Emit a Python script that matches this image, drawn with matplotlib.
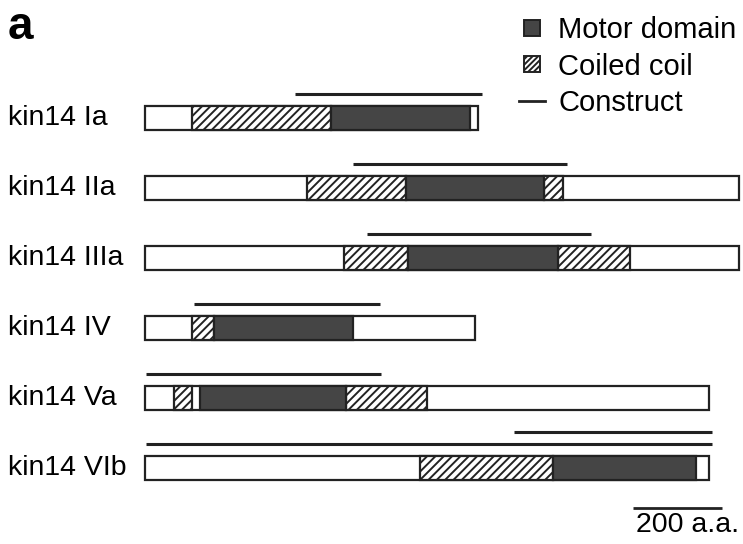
import matplotlib
matplotlib.use("Agg")
import matplotlib.pyplot as plt
from matplotlib.patches import Patch, Rectangle
from matplotlib.lines import Line2D
from matplotlib.legend_handler import HandlerPatch

plt.rcParams["font.family"] = ["Liberation Sans", "DejaVu Sans"]
plt.rcParams["hatch.linewidth"] = 1.4

# kinesin-14 members, lengths in amino acids
names = ["kin14 Ia", "kin14 IIa", "kin14 IIIa", "kin14 IV", "kin14 Va", "kin14 VIb"]
lengths = [748, 1335, 1335, 742, 1267, 1267]
motor = [(418, 730), (586, 897), (591, 928), (155, 467), (124, 452), (917, 1238)]
coiled = [
    [(106, 418)],
    [(364, 586), (897, 939)],
    [(447, 591), (928, 1090)],
    [(106, 155)],
    [(65, 106), (452, 634)],
    [(618, 917)],
]
# (start, end, stack level above the bar)
constructs = [
    [(337, 757, 0)],
    [(467, 948, 0)],
    [(499, 1002, 0)],
    [(110, 528, 0)],
    [(2, 530, 0)],
    [(2, 1274, 0), (829, 1274, 1)],
]
scale_start = 1097
scale_len = 200

motor_col = "#454545"
edge = "#222222"
bar_h = 0.33


def square_handle(legend, orig_handle, xdescent, ydescent, width, height, fontsize):
    s = 11.5
    return Rectangle((-xdescent + (width - s) / 2, -ydescent + (height - s) / 2), s, s)


fig = plt.figure(figsize=(7.43, 5.44), dpi=100)
ax = fig.add_axes([0, 0, 1, 1])
ax.set_xlim(-326, 1344)
ax.set_ylim(6.086, -1.686)
ax.axis("off")

for i, name in enumerate(names):
    ax.barh(i, lengths[i], left=0, height=bar_h, color="white",
            edgecolor=edge, linewidth=1.6, zorder=2)
    for s, e in coiled[i]:
        ax.barh(i, e - s, left=s, height=bar_h, color="white", hatch="////",
                edgecolor=edge, linewidth=1.6, zorder=3)
    s, e = motor[i]
    ax.barh(i, e - s, left=s, height=bar_h, color=motor_col,
            edgecolor=edge, linewidth=1.6, zorder=3)
    for s, e, lev in constructs[i]:
        y = i - 0.34 - lev * 0.18
        ax.plot([s, e], [y, y], color=edge, lw=2.2, solid_capstyle="butt")
    ax.text(-308, i, name, fontsize=20.5, va="center", ha="left")

# scale bar
sy = 5.57
ax.plot([scale_start, scale_start + scale_len], [sy, sy], color=edge, lw=2.0,
        solid_capstyle="butt")
ax.text(scale_start + scale_len / 2 + 23, sy + 0.06, "200 a.a.", fontsize=20.5,
        ha="center", va="top")

fig.text(8 / 743, 1 - 39 / 544, "a", fontsize=33, fontweight="bold")

handles = [
    Patch(facecolor=motor_col, edgecolor=edge, linewidth=1.4),
    Patch(facecolor="white", edgecolor=edge, hatch="//////", linewidth=1.4),
    Line2D([], [], color=edge, lw=2.0),
]
fig.legend(handles, ["Motor domain", "Coiled coil", "Construct"],
           loc="upper right", bbox_to_anchor=(1.003, 0.987), frameon=False,
           fontsize=21, handlelength=0.9, handleheight=0.7,
           handletextpad=0.45, labelspacing=0.3, borderaxespad=0.1,
           borderpad=0.2,
           handler_map={Patch: HandlerPatch(patch_func=square_handle)})

fig.savefig("out.png", dpi=100)
